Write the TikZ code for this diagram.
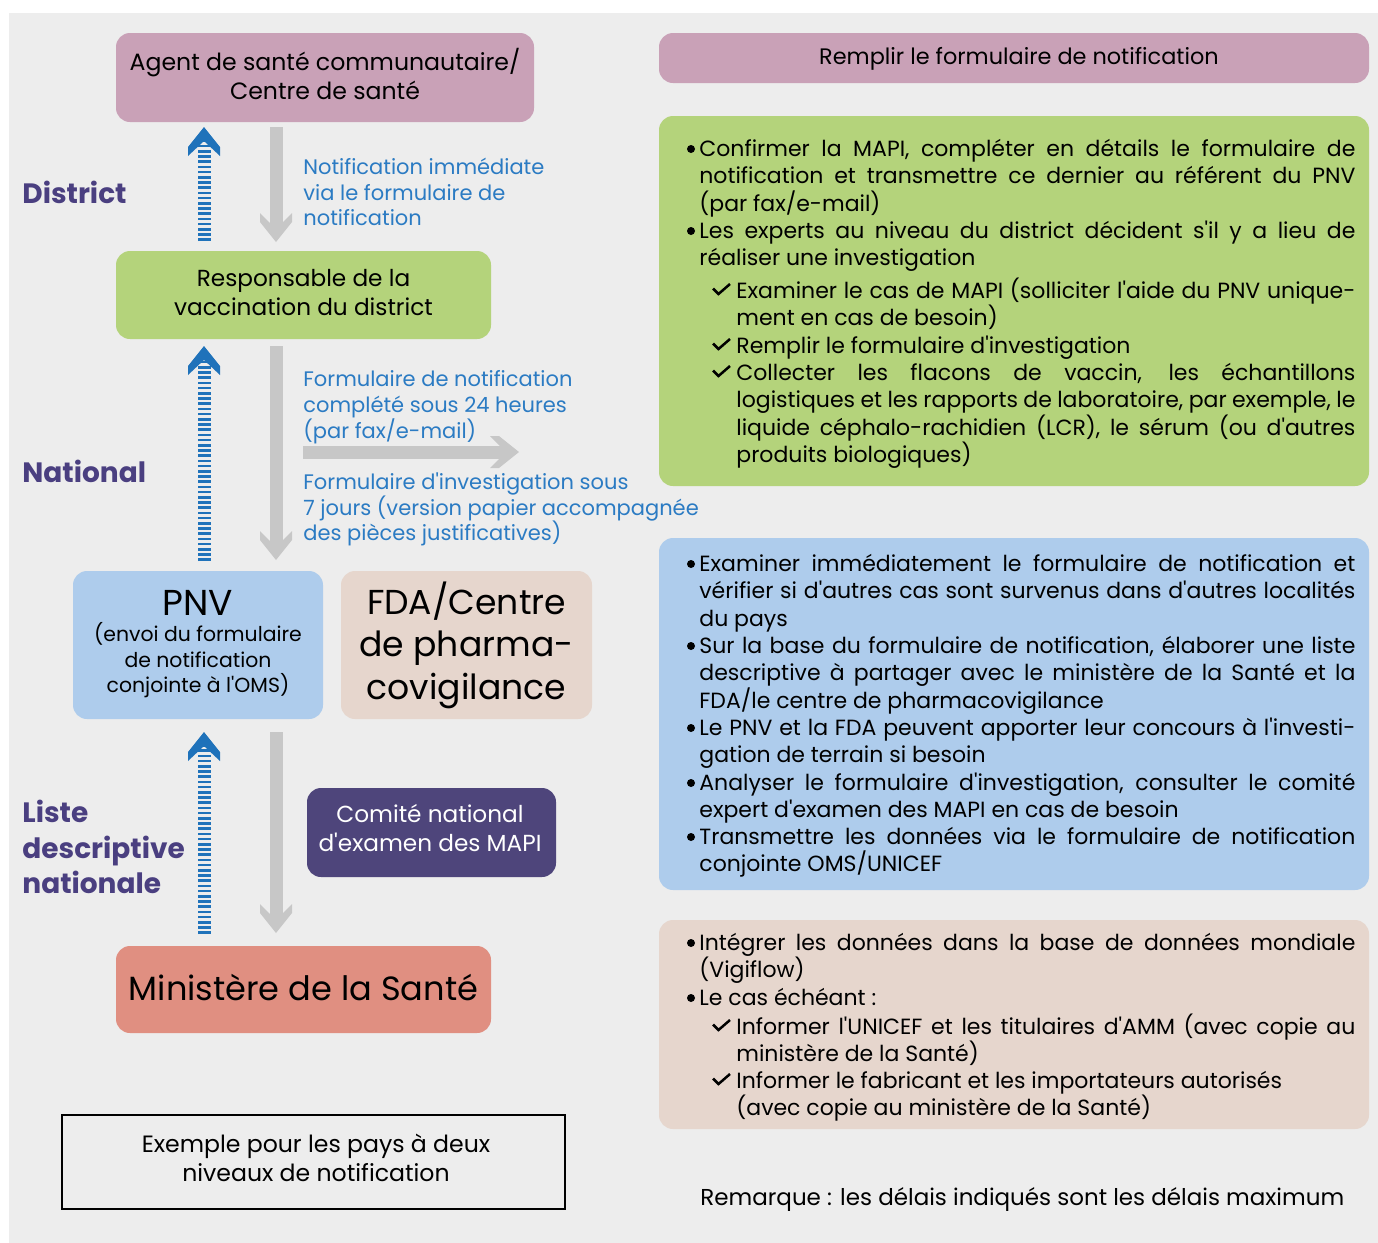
\documentclass[tikz,border=0pt]{standalone}
\usepackage{fontspec}
\setmainfont{Poppins}[Ligatures=TeXOff]
\usetikzlibrary{calc}
\definecolor{bgc}{HTML}{EDEDED}
\definecolor{pinkc}{HTML}{C9A1B7}
\definecolor{greenc}{HTML}{B4D37B}
\definecolor{bluec}{HTML}{AECCEC}
\definecolor{beigec}{HTML}{E6D6CD}
\definecolor{purplec}{HTML}{4E457B}
\definecolor{salmonc}{HTML}{E08F81}
\definecolor{labelc}{HTML}{4A3F80}
\definecolor{txtblue}{HTML}{2B7BC3}
\definecolor{arrblue}{HTML}{1F72BA}
\definecolor{arrgray}{HTML}{C7C7C7}
\newcommand\fs[2]{\fontsize{#1}{#2}\selectfont}
\newcommand\JA[1]{\makebox[328pt][s]{#1}}
\newcommand\JB[1]{\makebox[309.5pt][s]{#1}}
\tikzset{
  chevup/.pic={\fill[arrblue] (0,0) -- (16,20) -- (16,29) -- (0,14) -- (-16,29) -- (-16,20) -- cycle;},
  chevdown/.pic={\fill[arrgray] (0,0) -- (16,-20) -- (16,-29) -- (6.5,-19.5) -- (-6.5,-19.5) -- (-16,-29) -- (-16,-20) -- cycle;},
  chevright/.pic={\fill[arrgray] (0,0) -- (-20,-16) -- (-29,-16) -- (-19.5,-6.5) -- (-19.5,6.5) -- (-29,16) -- (-20,16) -- cycle;}
}
\newcommand\Li[4]{\node[ln] (#1) at (#2,#3) {#4};}
\newcommand\Bu[1]{\fill (691,#1-7) circle (2pt);}
\newcommand\Ck[1]{\draw[line width=1.25pt, line join=miter] (713,#1-9.5) -- (718.5,#1-4) -- (730,#1-14);}
\begin{document}
\begin{tikzpicture}[x=0.5pt,y=-0.5pt,
  box/.style={rounded corners=7pt, inner sep=0pt},
  btxt/.style={inner sep=0pt, align=center, text=black},
  ln/.style={anchor=base west, inner sep=0pt, font=\fs{11}{13.65}},
  bt/.style={anchor=base west, inner sep=0pt, text=txtblue, font=\fs{10.5}{12.75}},
  lab/.style={anchor=base west, inner sep=0pt, text=labelc, font=\fs{14}{17}\bfseries},
  upshaft/.style={arrblue, line width=6.5pt, dash pattern=on 1.3pt off 1.3pt},
  downshaft/.style={arrgray, line width=6.5pt}]
\useasboundingbox (0,0) rectangle (1378,1243);
\fill[white] (0,0) rectangle (1378,1243);
\fill[bgc] (9,13) rectangle (1378,1243);

% boxes
\node[box, fill=pinkc, minimum width=209pt, minimum height=44.5pt] (agent) at (325,77.5) {};
\node[btxt, font=\fs{11.8}{14.5}] (agentT) at (325,73.5) {Agent de santé communautaire/\\Centre de santé};
\node[box, fill=pinkc, minimum width=355pt, minimum height=25pt] (rempl) at (1014,58) {};
\node[btxt, font=\fs{11.2}{13}] (remplT) at (1019,59) {Remplir le formulaire de notification};
\node[box, fill=greenc, minimum width=187.5pt, minimum height=44pt] (resp) at (303.5,295) {};
\node[btxt, font=\fs{11.6}{14.5}] (respT) at (303.5,292.5) {Responsable de la\\vaccination du district};
\node[box, fill=greenc, minimum width=355pt, minimum height=185pt] (gbig) at (1014,301) {};
\node[box, fill=bluec, minimum width=125pt, minimum height=74pt] (pnv) at (198,645) {};
\node[anchor=base, inner sep=0pt, font=\fs{18}{20}] (pnvt) at (198,615) {PNV};
\node[anchor=base, inner sep=0pt, font=\fs{10.2}{12.75}] (pnv1) at (198,641) {(envoi du formulaire};
\node[anchor=base, inner sep=0pt, font=\fs{10.2}{12.75}] (pnv2) at (198,667) {de notification};
\node[anchor=base, inner sep=0pt, font=\fs{10.2}{12.75}] (pnv3) at (198,692) {conjointe à l'OMS)};
\node[box, fill=beigec, minimum width=125.5pt, minimum height=74pt] (fda) at (466.5,645) {};
\node[btxt, font=\fs{17.3}{21.25}] (fdaT) at (466.5,645) {FDA/Centre\\de pharma-\\covigilance};
\node[box, fill=bluec, minimum width=355pt, minimum height=176pt] (bbig) at (1014,714) {};
\node[box, fill=purplec, minimum width=124.5pt, minimum height=44.5pt] (comite) at (431.5,832.5) {};
\node[btxt, text=white, font=\fs{11.6}{14.5}] (comiteT) at (430,828.5) {Comité national\\d'examen des MAPI};
\node[box, fill=salmonc, minimum width=187.5pt, minimum height=43.5pt] (minis) at (303.5,989.5) {};
\node[btxt, font=\fs{16.8}{20}] (minisT) at (303.5,988) {Ministère de la Santé};
\node[box, fill=beigec, minimum width=355pt, minimum height=104.5pt] (ebig) at (1014,1024.5) {};
\node[draw=black, line width=1.2pt, inner sep=0pt, minimum width=251.3pt, minimum height=46.8pt] (exemple) at (313.5,1162) {};
\node[btxt, font=\fs{11.8}{14.5}] (exempleT) at (316,1157.5) {Exemple pour les pays à deux\\niveaux de notification};
\node[anchor=base west, inner sep=0pt, font=\fs{11.5}{14}] (rem) at (700,1205) {Remarque : les délais indiqués sont les délais maximum};

% labels
\node[lab] (ldist) at (22,203) {District};
\node[lab] (lnat) at (22,482) {National};
\node[lab] (lliste1) at (22,822) {Liste};
\node[lab] (lliste2) at (22,858) {descriptive};
\node[lab] (lliste3) at (22,893) {nationale};

% blue texts
\node[bt] (n1) at (303,174) {Notification immédiate};
\node[bt] (n2) at (303,200) {via le formulaire de};
\node[bt] (n3) at (303,225) {notification};
\node[bt] (f1) at (303,386) {Formulaire de notification};
\node[bt] (f2) at (303,412) {complété sous 24 heures};
\node[bt] (f3) at (303,438) {(par fax/e-mail)};
\node[bt] (i1) at (303,489) {Formulaire d'investigation sous};
\node[bt] (i2) at (303,515) {7 jours (version papier accompagnée};
\node[bt] (i3) at (303,540) {des pièces justificatives)};

% arrows
\coordinate (u1b) at (204,241); \coordinate (u1t) at (204,127);
\coordinate (u2b) at (204,561); \coordinate (u2t) at (204,346);
\coordinate (u3b) at (204,934); \coordinate (u3t) at (204,732);
\foreach \b/\t in {u1b/u1t,u2b/u2t,u3b/u3t}{
  \draw[upshaft] (\b) -- ($(\t)+(0,14)$);
  \pic at (\t) {chevup};
}
\coordinate (d1s) at (276,127); \coordinate (d1t) at (276,242);
\coordinate (d2s) at (276,346); \coordinate (d2t) at (276,560);
\coordinate (d3s) at (276,732); \coordinate (d3t) at (276,933);
\foreach \s/\t in {d1s/d1t,d2s/d2t,d3s/d3t}{
  \draw[downshaft] (\s) -- ($(\t)+(0,-19)$);
  \pic at (\t) {chevdown};
}
\coordinate (rs) at (303,452); \coordinate (rt) at (519,452);
\draw[downshaft] (rs) -- ($(rt)+(-19,0)$);
\pic at (rt) {chevright};

% green box text
\Bu{156}\Li{g1}{699}{156}{\JA{Confirmer la MAPI, compléter en détails le formulaire de}}
\Li{g2}{699}{183}{\JA{notification et transmettre ce dernier au référent du PNV}}
\Li{g3}{699}{211}{(par fax/e-mail)}
\Bu{238}\Li{g4}{699}{238}{\JA{Les experts au niveau du district décident s'il y a lieu de}}
\Li{g5}{699}{265}{réaliser une investigation}
\Ck{298}\Li{g6}{736}{298}{\JB{Examiner le cas de MAPI (solliciter l'aide du PNV unique-}}
\Li{g7}{736}{325}{ment en cas de besoin)}
\Ck{353}\Li{g8}{736}{353}{Remplir le formulaire d'investigation}
\Ck{380}\Li{g9}{736}{380}{\JB{Collecter les flacons de vaccin, les échantillons}}
\Li{g10}{736}{407}{\JB{logistiques et les rapports de laboratoire, par exemple, le}}
\Li{g11}{736}{435}{\JB{liquide céphalo-rachidien (LCR), le sérum (ou d'autres}}
\Li{g12}{736}{462}{produits biologiques)}

% blue box text
\Bu{571}\Li{b1}{699}{571}{\JA{Examiner immédiatement le formulaire de notification et}}
\Li{b2}{699}{598}{\JA{vérifier si d'autres cas sont survenus dans d'autres localités}}
\Li{b3}{699}{626}{du pays}
\Bu{653}\Li{b4}{699}{653}{\JA{Sur la base du formulaire de notification, élaborer une liste}}
\Li{b5}{699}{680}{\JA{descriptive à partager avec le ministère de la Santé et la}}
\Li{b6}{699}{708}{FDA/le centre de pharmacovigilance}
\Bu{735}\Li{b7}{699}{735}{\JA{Le PNV et la FDA peuvent apporter leur concours à l'investi-}}
\Li{b8}{699}{762}{gation de terrain si besoin}
\Bu{790}\Li{b9}{699}{790}{\JA{Analyser le formulaire d'investigation, consulter le comité}}
\Li{b10}{699}{817}{expert d'examen des MAPI en cas de besoin}
\Bu{844}\Li{b11}{699}{844}{\JA{Transmettre les données via le formulaire de notification}}
\Li{b12}{699}{871}{conjointe OMS/UNICEF}

% beige box text
\Bu{950}\Li{e1}{699}{950}{\JA{Intégrer les données dans la base de données mondiale}}
\Li{e2}{699}{977}{(Vigiflow)}
\Bu{1005}\Li{e3}{699}{1005}{Le cas échéant :}
\Ck{1034}\Li{e4}{736}{1034}{\JB{Informer l'UNICEF et les titulaires d'AMM (avec copie au}}
\Li{e5}{736}{1061}{ministère de la Santé)}
\Ck{1088}\Li{e6}{736}{1088}{Informer le fabricant et les importateurs autorisés}
\Li{e7}{736}{1115}{(avec copie au ministère de la Santé)}
\end{tikzpicture}
\end{document}
